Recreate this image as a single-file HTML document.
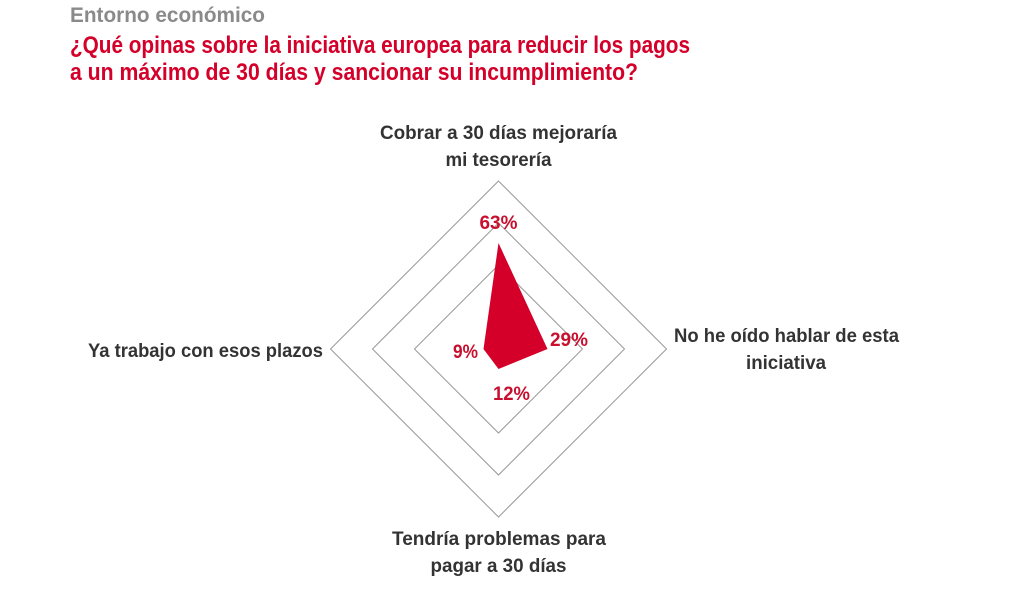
<!DOCTYPE html>
<html><head><meta charset="utf-8"><style>
html,body{margin:0;padding:0;background:#fff;}
svg{display:block;}
text{font-family:"Liberation Sans",sans-serif;font-weight:bold;}
</style></head><body>
<svg width="1028" height="596" viewBox="0 0 1028 596" xmlns="http://www.w3.org/2000/svg">
<text x="70" y="22" font-size="21" fill="#8a8a8a" textLength="195" lengthAdjust="spacingAndGlyphs">Entorno económico</text>
<text x="70" y="53" font-size="24" fill="#d4002a" textLength="620" lengthAdjust="spacingAndGlyphs">¿Qué opinas sobre la iniciativa europea para reducir los pagos</text>
<text x="70" y="80" font-size="24" fill="#d4002a" textLength="568" lengthAdjust="spacingAndGlyphs">a un máximo de 30 días y sancionar su incumplimiento?</text>
<g fill="none" stroke="#999" stroke-width="1">
<polygon points="498.5,181 666.5,349 498.5,517 330.5,349"/>
<polygon points="498.5,223 624.5,349 498.5,475 372.5,349"/>
<polygon points="498.5,265 582.5,349 498.5,433 414.5,349"/>
</g>
<polygon points="498.5,243 547.5,349 498.5,369 483.5,349" fill="#d4002a"/>
<g fill="#333" font-size="19.5">
<text x="380" y="139" textLength="237" lengthAdjust="spacingAndGlyphs">Cobrar a 30 días mejoraría</text>
<text x="498.5" y="166" text-anchor="middle" textLength="106" lengthAdjust="spacingAndGlyphs">mi tesorería</text>
<text x="88" y="357" textLength="235" lengthAdjust="spacingAndGlyphs">Ya trabajo con esos plazos</text>
<text x="674" y="342" textLength="225" lengthAdjust="spacingAndGlyphs">No he oído hablar de esta</text>
<text x="786" y="369" text-anchor="middle" textLength="80" lengthAdjust="spacingAndGlyphs">iniciativa</text>
<text x="392" y="545" textLength="214" lengthAdjust="spacingAndGlyphs">Tendría problemas para</text>
<text x="498.5" y="572" text-anchor="middle" textLength="136" lengthAdjust="spacingAndGlyphs">pagar a 30 días</text>
</g>
<g fill="#c8102e" font-size="19">
<text x="498.5" y="229" text-anchor="middle" textLength="38" lengthAdjust="spacingAndGlyphs">63%</text>
<text x="550" y="346" textLength="38" lengthAdjust="spacingAndGlyphs">29%</text>
<text x="453" y="358" textLength="25" lengthAdjust="spacingAndGlyphs">9%</text>
<text x="493" y="400" textLength="37" lengthAdjust="spacingAndGlyphs">12%</text>
</g>
</svg>
</body></html>
